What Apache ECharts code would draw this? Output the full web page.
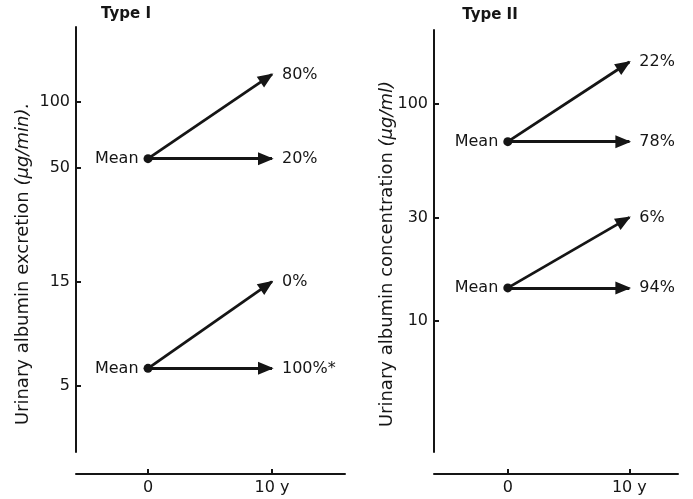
<!DOCTYPE html>
<html><head><meta charset="utf-8">
<script src="https://cdn.jsdelivr.net/npm/echarts@6/dist/echarts.min.js"></script>
<style>html,body{margin:0;padding:0;background:#fff}#c{width:693px;height:499px}</style>
</head><body><div id="c"></div>
<script>
// ---- data ----
const xTickValues = [0, 10];
const xTickLabels = ['0', '10 y'];
const type1YTicks = [5, 15, 50, 100];
const type2YTicks = [10, 30, 100];
const type1Start = [55, 55, 6, 6];
const type1End = [134, 55, 15, 6];
const type1Pct = ['80%', '20%', '0%', '100%*'];
const type2Start = [67, 67, 14.2, 14.2];
const type2End = [156, 67, 30, 14.2];
const type2Pct = ['22%', '78%', '6%', '94%'];
const meanLabel = 'Mean';
const titles = ['Type I', 'Type II'];
const yNameMain = ['Urinary albumin excretion ', 'Urinary albumin concentration '];
const yNameUnit = ['(μg/min).', '(μg/ml)'];

// ---- style ----
const FONT = 'DejaVu Sans';
const INK = '#151515';
// triangle whose tip sits just past the symbol centre (a zero-area sliver pads the box forward)
const ARROW = 'path://M5,-14L5.01,-14L5,-14ZM5,-3L10,11L0,11Z';

function xAxisCfg(gi, min, max) {
  return {
    gridIndex: gi, type: 'value', min: min, max: max, offset: 22,
    axisLine: { show: true, onZero: false, lineStyle: { color: INK, width: 2 } },
    axisTick: { show: true, inside: true, length: 5, customValues: xTickValues, lineStyle: { color: INK, width: 2 } },
    axisLabel: { show: true, customValues: xTickValues, margin: 6, fontFamily: FONT, fontSize: 16, color: INK,
      formatter: v => xTickLabels[xTickValues.indexOf(v)] },
    splitLine: { show: false }
  };
}
function yAxisCfg(gi, min, max, ticks) {
  return {
    gridIndex: gi, type: 'log', logBase: 10, min: min, max: max,
    axisLine: { show: true, onZero: false, lineStyle: { color: INK, width: 2 } },
    axisTick: { show: true, inside: true, length: 5, customValues: ticks, lineStyle: { color: INK, width: 2 } },
    axisLabel: { show: true, customValues: ticks, margin: 6, fontFamily: FONT, fontSize: 16, color: INK,
      formatter: v => String(Math.round(v)) },
    splitLine: { show: false }, minorTick: { show: false }
  };
}
function panelSeries(gi, start, end, pct) {
  const means = [];
  start.forEach(s => { if (!means.some(m => m[1] === s)) means.push([0, s]); });
  return [
    {
      type: 'lines', coordinateSystem: 'cartesian2d', xAxisIndex: gi, yAxisIndex: gi,
      symbol: ['none', ARROW], symbolSize: [0, [13, 28]],
      lineStyle: { color: INK, width: 2.8, opacity: 1 },
      itemStyle: { color: INK },
      data: start.map((s, i) => ({ coords: [[xTickValues[0], s], [xTickValues[1], end[i]]] })),
      silent: true, z: 3
    },
    {
      type: 'scatter', xAxisIndex: gi, yAxisIndex: gi, symbol: 'circle', symbolSize: 9,
      itemStyle: { color: INK, opacity: 1 }, data: means, z: 4, silent: true,
      label: { show: true, position: 'left', distance: 5, formatter: meanLabel, fontFamily: FONT, fontSize: 16, color: INK, opacity: 1 }
    },
    {
      type: 'scatter', xAxisIndex: gi, yAxisIndex: gi, symbolSize: 0,
      itemStyle: { opacity: 1 }, silent: true,
      data: end.map(e => [xTickValues[1], e]), z: 4,
      label: { show: true, position: 'right', distance: 10, fontFamily: FONT, fontSize: 16, color: INK, opacity: 1,
        formatter: p => pct[p.dataIndex] }
    }
  ];
}

const chart = echarts.init(document.getElementById('c'), null, { renderer: 'canvas' });
chart.setOption({
  animation: false,
  backgroundColor: '#ffffff',
  grid: [
    { left: 76, right: 348, top: 27, bottom: 47 },
    { left: 434, right: 15, top: 30, bottom: 47 }
  ],
  xAxis: [xAxisCfg(0, -5.81, 15.89), xAxisCfg(1, -6.07, 14.0)],
  yAxis: [yAxisCfg(0, 2.48, 221, type1YTicks), yAxisCfg(1, 2.49, 219, type2YTicks)],
  graphic: [
    { type: 'text', x: 126, y: 14, style: { text: titles[0], fontFamily: FONT, fontWeight: 'bold', fontSize: 15, fill: INK, align: 'center', verticalAlign: 'middle' } },
    { type: 'text', x: 490, y: 15, style: { text: titles[1], fontFamily: FONT, fontWeight: 'bold', fontSize: 15, fill: INK, align: 'center', verticalAlign: 'middle' } },
    { type: 'text', x: 23, y: 264, rotation: Math.PI / 2,
      style: { text: '{n|' + yNameMain[0] + '}{i|' + yNameUnit[0] + '}', align: 'center', verticalAlign: 'middle',
        rich: { n: { fontFamily: FONT, fontSize: 18, fill: INK, color: INK }, i: { fontFamily: FONT, fontSize: 18, fontStyle: 'italic', fill: INK, color: INK } } } },
    { type: 'text', x: 387, y: 254, rotation: Math.PI / 2,
      style: { text: '{n|' + yNameMain[1] + '}{i|' + yNameUnit[1] + '}', align: 'center', verticalAlign: 'middle',
        rich: { n: { fontFamily: FONT, fontSize: 18, fill: INK, color: INK }, i: { fontFamily: FONT, fontSize: 18, fontStyle: 'italic', fill: INK, color: INK } } } }
  ],
  series: [].concat(panelSeries(0, type1Start, type1End, type1Pct), panelSeries(1, type2Start, type2End, type2Pct))
});
</script>
</body></html>
